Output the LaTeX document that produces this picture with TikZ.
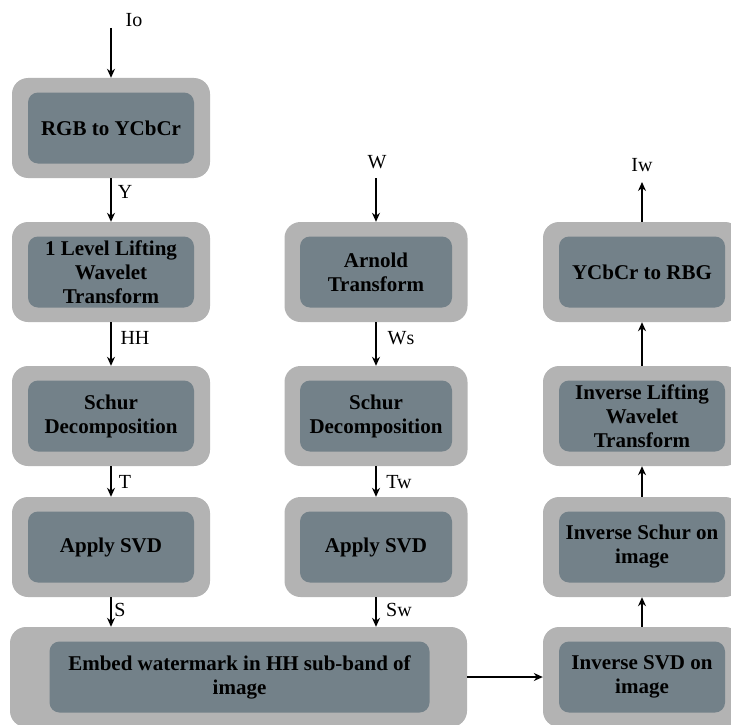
\documentclass[tikz,border=0pt]{standalone}
\usepackage{fontspec}
\setmainfont{Liberation Serif}
\usetikzlibrary{arrows.meta}
\definecolor{outerg}{HTML}{B3B3B3}
\definecolor{innerg}{HTML}{738189}
\begin{document}
\begin{tikzpicture}[x=1pt,y=-1pt,
  outerbox/.style={fill=outerg, rounded corners=16pt, minimum height=100pt, inner sep=0pt},
  innerbox/.style={fill=innerg, rounded corners=10pt, minimum height=71pt, align=center,
    font=\fontsize{21}{24}\selectfont\bfseries, inner sep=0pt},
  lbl/.style={font=\fontsize{20}{22}\selectfont, inner sep=0pt},
  arr/.style={-{Stealth[length=9pt,width=8pt]}, line width=1.3pt}]
\useasboundingbox (0,0) rectangle (731,725);
% column 1
\node[outerbox, minimum width=198pt] (o-rgb) at (111,128) {};
\node[innerbox, minimum width=166pt] (rgb) at (111,128) {RGB to YCbCr};
\node[outerbox, minimum width=198pt] (o-lift) at (111,272) {};
\node[innerbox, minimum width=166pt] (lift) at (111,272) {1 Level Lifting\\Wavelet\\Transform};
\node[outerbox, minimum width=198pt] (o-schur1) at (111,416) {};
\node[innerbox, minimum width=166pt] (schur1) at (111,416) {Schur\\Decomposition};
\node[outerbox, minimum width=198pt] (o-svd1) at (111,547) {};
\node[innerbox, minimum width=166pt] (svd1) at (111,547) {Apply SVD};
% column 2
\node[outerbox, minimum width=183pt] (o-arnold) at (376,272) {};
\node[innerbox, minimum width=152pt] (arnold) at (376,272) {Arnold\\Transform};
\node[outerbox, minimum width=183pt] (o-schur2) at (376,416) {};
\node[innerbox, minimum width=152pt] (schur2) at (376,416) {Schur\\Decomposition};
\node[outerbox, minimum width=183pt] (o-svd2) at (376,547) {};
\node[innerbox, minimum width=152pt] (svd2) at (376,547) {Apply SVD};
% embed
\node[outerbox, minimum width=457pt] (o-embed) at (238.5,677) {};
\node[innerbox, minimum width=380pt] (embed) at (239.5,677) {Embed watermark in HH sub-band of\\image};
% column 3
\node[outerbox, minimum width=198pt] (o-ycc) at (642,272) {};
\node[innerbox, minimum width=166pt] (ycc) at (642,272) {YCbCr to RBG};
\node[outerbox, minimum width=198pt] (o-ilift) at (642,416) {};
\node[innerbox, minimum width=166pt] (ilift) at (642,416) {Inverse Lifting\\Wavelet\\Transform};
\node[outerbox, minimum width=198pt] (o-ischur) at (642,547) {};
\node[innerbox, minimum width=166pt] (ischur) at (642,547) {Inverse Schur on\\image};
\node[outerbox, minimum width=198pt] (o-isvd) at (642,677) {};
\node[innerbox, minimum width=166pt] (isvd) at (642,677) {Inverse SVD on\\image};
% free ends
\coordinate (io) at (111,28);
\coordinate (w) at (376,178);
\coordinate (iw) at (642,182);
% labels
\node[lbl] (l-io) at (134,20) {Io};
\node[lbl] (l-y) at (125,192) {Y};
\node[lbl] (l-hh) at (135,338) {HH};
\node[lbl] (l-t) at (125,482) {T};
\node[lbl] (l-s) at (120,610) {S};
\node[lbl] (l-w) at (377,162) {W};
\node[lbl] (l-ws) at (401,338) {Ws};
\node[lbl] (l-tw) at (399,482) {Tw};
\node[lbl] (l-sw) at (399,610) {Sw};
\node[lbl] (l-iw) at (642,165) {Iw};
% arrows
\draw[arr] (io) -- (o-rgb.north);
\draw[arr] (o-rgb.south) -- (o-lift.north);
\draw[arr] (o-lift.south) -- (o-schur1.north);
\draw[arr] (o-schur1.south) -- (o-svd1.north);
\draw[arr] (o-svd1.south) -- (o-svd1.south |- o-embed.north);
\draw[arr] (w) -- (o-arnold.north);
\draw[arr] (o-arnold.south) -- (o-schur2.north);
\draw[arr] (o-schur2.south) -- (o-svd2.north);
\draw[arr] (o-svd2.south) -- (o-svd2.south |- o-embed.north);
\draw[arr] (o-embed.east) -- (o-isvd.west);
\draw[arr] (o-isvd.north) -- (o-ischur.south);
\draw[arr] (o-ischur.north) -- (o-ilift.south);
\draw[arr] (o-ilift.north) -- (o-ycc.south);
\draw[arr] (o-ycc.north) -- (iw);
\end{tikzpicture}
\end{document}
